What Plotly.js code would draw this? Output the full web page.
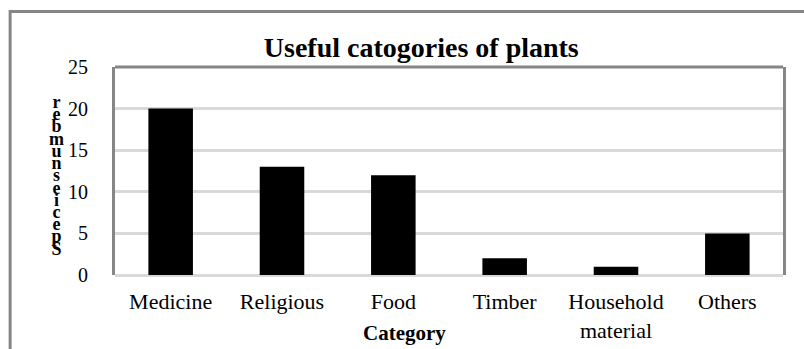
<!DOCTYPE html>
<html>
<head>
<meta charset="utf-8">
<script src="https://cdn.plot.ly/plotly-3.0.1.min.js"></script>
<style>html,body{margin:0;padding:0;background:#fff;}#chart{width:804px;height:349px;}</style>
</head>
<body>
<div id="chart"></div>
<script>
var categories = ['Medicine', 'Religious', 'Food', 'Timber', 'Household<br>material', 'Others'];
var speciesNumber = [20, 13, 12, 2, 1, 5];
var yTickValues = [0, 5, 10, 15, 20, 25];
var chartTitle = 'Useful catogories of plants';
var xTitle = 'Category';
var yTitle = 'Species number';

var serif = '"Liberation Serif", "Times New Roman", serif';

// y title drawn as stacked letters, reversed, like the original
var stackedLetters = yTitle.split('').reverse().filter(function (c) { return c !== ' '; });
var stackedText = stackedLetters.map(function (c) {
  return '<span style="font-size:18px"><b>' + c + '</b></span>';
}).join('<br>');

var trace = {
  type: 'bar',
  x: categories,
  y: speciesNumber,
  marker: { color: '#000000', line: { width: 0 } },
  hoverinfo: 'x+y'
};

var layout = {
  width: 804,
  height: 349,
  margin: { l: 115, r: 21, t: 67, b: 74 },
  paper_bgcolor: '#ffffff',
  plot_bgcolor: '#ffffff',
  bargap: 0.6,
  showlegend: false,
  title: {
    text: '<b>' + chartTitle + '</b>',
    font: { family: serif, size: 28, color: '#000000' },
    x: 0.524, xanchor: 'center',
    y: 0.865, yanchor: 'middle'
  },
  xaxis: {
    type: 'category',
    showgrid: false,
    showline: false,
    zeroline: false,
    ticks: '',
    ticklabelstandoff: 11,
    tickfont: { family: serif, size: 22, color: '#000000' }
  },
  yaxis: {
    range: [0, 25],
    tickvals: yTickValues,
    ticktext: yTickValues.map(String),
    showgrid: true,
    gridcolor: '#d9d9d9',
    gridwidth: 3,
    zeroline: true,
    zerolinecolor: '#d9d9d9',
    zerolinewidth: 3,
    showline: true,
    mirror: true,
    linecolor: '#868686',
    linewidth: 3,
    ticks: '',
    ticklabelstandoff: 20,
    tickfont: { family: serif, size: 20, color: '#000000' }
  },
  shapes: [
    {
      type: 'line', xref: 'paper', yref: 'paper',
      x0: 0, x1: 1, y0: 1, y1: 1,
      line: { color: '#868686', width: 3 }
    },
    {
      type: 'rect', xref: 'paper', yref: 'paper',
      x0: -0.157, x1: 1.2, y0: -0.6, y1: 1.267,
      line: { color: '#868686', width: 3 },
      fillcolor: 'rgba(0,0,0,0)',
      layer: 'below'
    }
  ],
  annotations: [
    {
      text: '<b>' + xTitle + '</b>',
      xref: 'paper', yref: 'paper',
      x: 0.434, y: -0.279,
      xanchor: 'center', yanchor: 'middle',
      showarrow: false,
      font: { family: serif, size: 21, color: '#000000' }
    },
    {
      text: stackedText,
      xref: 'paper', yref: 'paper',
      x: -0.087, y: 0.476,
      xanchor: 'center', yanchor: 'middle',
      showarrow: false,
      font: { family: serif, size: 9.4, color: '#000000' }
    }
  ]
};

Plotly.newPlot('chart', [trace], layout, { displayModeBar: false, staticPlot: true });
</script>
</body>
</html>
